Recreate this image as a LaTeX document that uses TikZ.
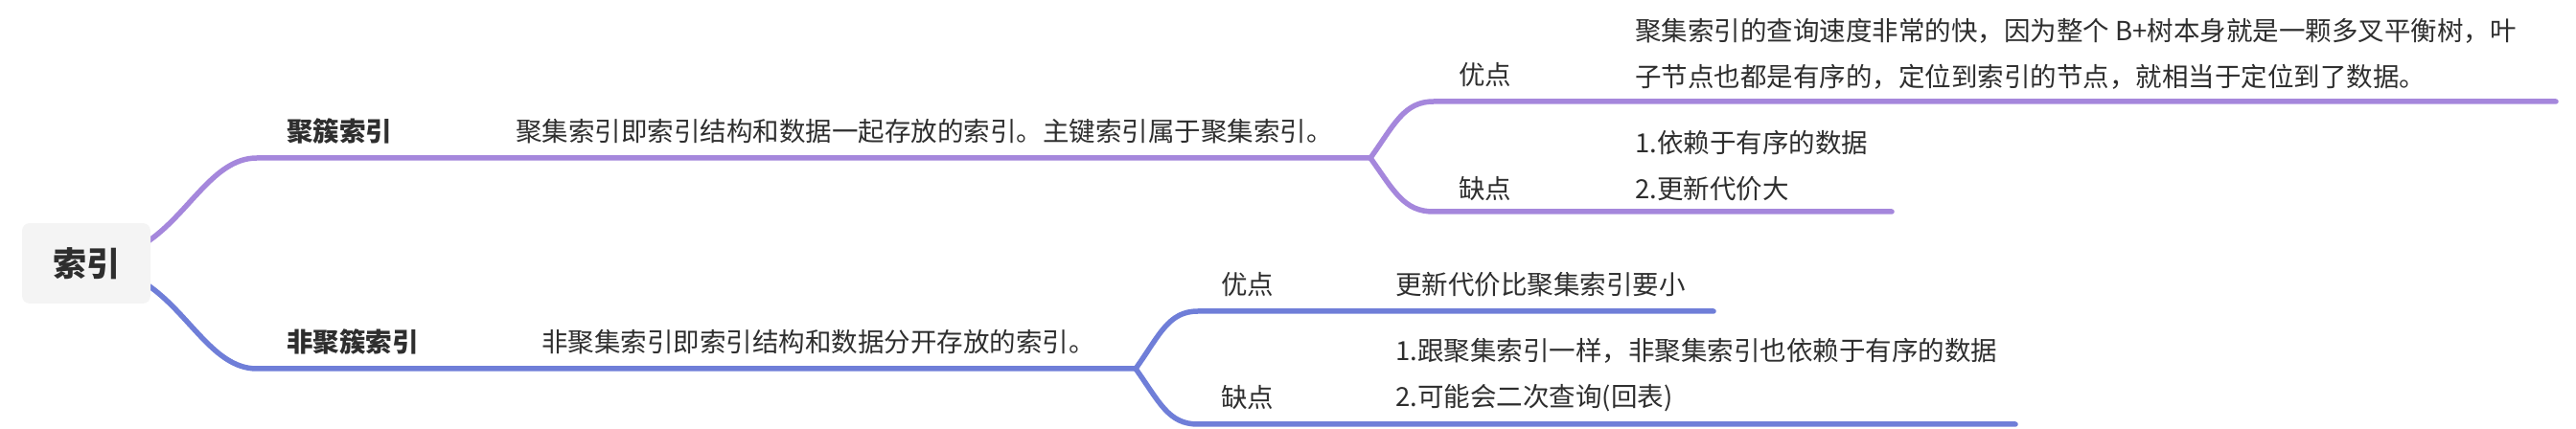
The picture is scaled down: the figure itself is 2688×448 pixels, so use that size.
\documentclass[tikz,border=0pt]{standalone}
\usepackage{fontspec}
\usepackage{tikz}
\usetikzlibrary{positioning, calc}
\newfontfamily\cjkfont{Noto Sans CJK SC}
\definecolor{rootgray}{HTML}{F4F4F4}
\definecolor{inkgray}{HTML}{2E2E2E}
\definecolor{lilac}{HTML}{A587DC}
\definecolor{periwinkle}{HTML}{6F7ED8}

\tikzset{
  topic/.style={anchor=west, inner sep=0pt, text=inkgray, align=left,
    font=\cjkfont\fontsize{13.75}{24}\selectfont},
  headtopic/.style={topic, font=\cjkfont\bfseries\fontsize{13.75}{24}\selectfont},
  rootbox/.style={fill=rootgray, rounded corners=4pt, inner sep=0pt,
    minimum width=67pt, minimum height=42pt, text=inkgray,
    font=\cjkfont\bfseries\fontsize{17.5}{20}\selectfont},
  branch/.style={line width=2.75pt, line cap=round},
}

\begin{document}
\begin{tikzpicture}[x=0.5pt, y=-0.5pt]
    \useasboundingbox (0,0) rectangle (2688,448);

    % ===== Joints =====
    \coordinate (rootUp) at (145,258);
    \coordinate (rootDn) at (145,292);
    \coordinate (juA) at (268,165);
    \coordinate (forkA) at (1430,165);
    \coordinate (proA) at (1496,106);
    \coordinate (proAend) at (2667,106);
    \coordinate (conA) at (1496,221);
    \coordinate (conAend) at (1974,221);
    \coordinate (juB) at (268,385);
    \coordinate (forkB) at (1185,385);
    \coordinate (proB) at (1250,325);
    \coordinate (proBend) at (1788,325);
    \coordinate (conB) at (1250,443);
    \coordinate (conBend) at (2103,443);

    % ===== Branch lines =====
    \draw[branch, lilac] (rootUp) .. controls +(50,-28) and +(-48,0) .. (juA) -- (forkA);
    \draw[branch, lilac] (forkA) .. controls +(25,-35) and +(-31,0) .. (proA) -- (proAend);
    \draw[branch, lilac] (forkA) .. controls +(25,35) and +(-31,0) .. (conA) -- (conAend);
    \draw[branch, periwinkle] (rootDn) .. controls +(50,28) and +(-48,0) .. (juB) -- (forkB);
    \draw[branch, periwinkle] (forkB) .. controls +(25,-35) and +(-31,0) .. (proB) -- (proBend);
    \draw[branch, periwinkle] (forkB) .. controls +(25,35) and +(-31,0) .. (conB) -- (conBend);

    % ===== Root =====
    \node[rootbox] (root) at (90,275) {索引};

    % ===== Clustered =====
    \node[headtopic] (cluster) at (299,137) {聚簇索引};
    \node[topic] (clusterDesc) at (538,137) {聚集索引即索引结构和数据一起存放的索引。主键索引属于聚集索引。};
    \node[topic] (proAlbl) at (1522,78) {优点};
    \node[topic] (proAtxt) at (1706,56) {聚集索引的查询速度非常的快，因为整个 B+树本身就是一颗多叉平衡树，叶\\子节点也都是有序的，定位到索引的节点，就相当于定位到了数据。};
    \node[topic] (conAlbl) at (1522,197) {缺点};
    \node[topic] (conAtxt) at (1706,173) {1.依赖于有序的数据\\2.更新代价大};

    % ===== Non-clustered =====
    \node[headtopic] (noncluster) at (299,357) {非聚簇索引};
    \node[topic] (nonclusterDesc) at (565,357) {非聚集索引即索引结构和数据分开存放的索引。};
    \node[topic] (proBlbl) at (1274,297) {优点};
    \node[topic] (proBtxt) at (1456,297) {更新代价比聚集索引要小};
    \node[topic] (conBlbl) at (1274,415) {缺点};
    \node[topic] (conBtxt) at (1456,392) {1.跟聚集索引一样，非聚集索引也依赖于有序的数据\\2.可能会二次查询(回表)};
\end{tikzpicture}
\end{document}
